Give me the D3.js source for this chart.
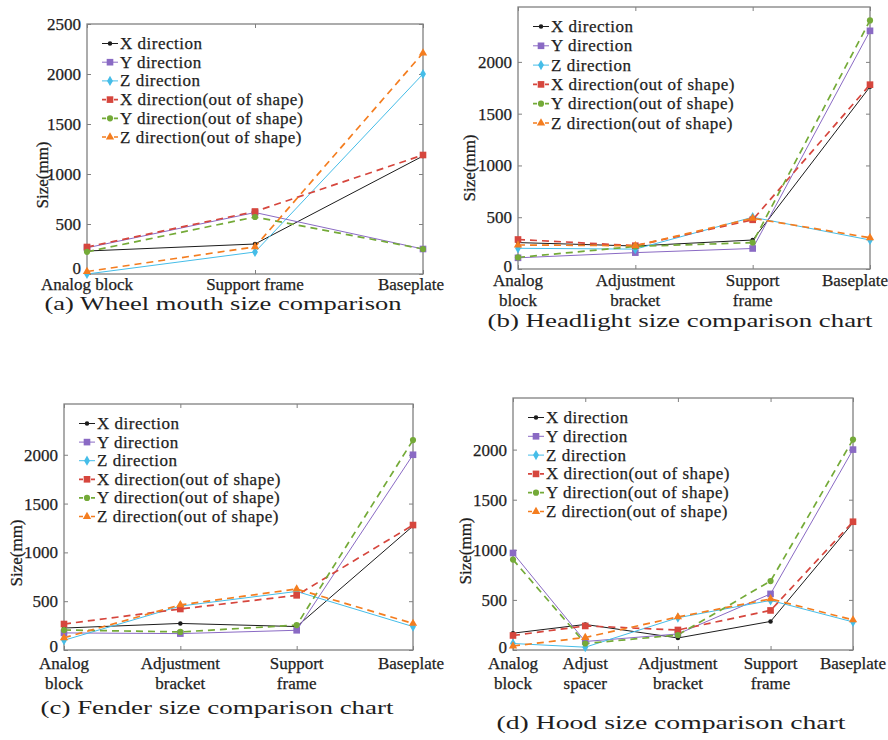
<!DOCTYPE html>
<html>
<head>
<meta charset="utf-8">
<script src="https://cdn.jsdelivr.net/npm/d3@7"></script>
<style>
  html, body { margin: 0; padding: 0; background: #fff; }
  svg { display: block; }
</style>
</head>
<body>
<svg id="chart" width="888" height="740"></svg>
<script>
// ---------------- DATA ----------------
const seriesNames = ["X direction", "Y direction", "Z direction",
  "X direction(out of shape)", "Y direction(out of shape)", "Z direction(out of shape)"];

const yTicksA = [0, 500, 1000, 1500, 2000, 2500];
const yTicksBCD = [0, 500, 1000, 1500, 2000];

// (a) Wheel mouth
const wheelCategories = ["Analog block", "Support frame", "Baseplate"];
const wheelX  = [230, 300, 1180];
const wheelY  = [262, 615, 250];
const wheelZ  = [0, 220, 2000];
const wheelXo = [270, 625, 1190];
const wheelYo = [222, 570, 250];
const wheelZo = [25, 272, 2210];

// (b) Headlight
const headCategories = ["Analog\nblock", "Adjustment\nbracket", "Support\nframe", "Baseplate"];
const headX  = [255, 222, 280, 1760];
const headY  = [108, 158, 198, 2300];
const headZ  = [200, 192, 500, 280];
const headXo = [285, 225, 475, 1780];
const headYo = [112, 218, 255, 2400];
const headZo = [232, 225, 490, 302];

// (c) Fender
const fenderCategories = ["Analog\nblock", "Adjustment\nbracket", "Support\nframe", "Baseplate"];
const fenderX  = [225, 272, 240, 1270];
const fenderY  = [175, 168, 202, 2000];
const fenderZ  = [100, 450, 600, 240];
const fenderXo = [266, 420, 560, 1280];
const fenderYo = [205, 185, 255, 2150];
const fenderZo = [125, 462, 625, 272];

// (d) Hood (uneven category spacing as in the original)
const hoodCategories = ["Analog\nblock", "Adjust\nspacer", "Adjustment\nbracket", "Support\nframe", "Baseplate"];
const hoodXPos = [1, 1.85, 2.94, 4.03, 5];
const hoodX  = [168, 255, 120, 285, 1270];
const hoodY  = [968, 85, 160, 560, 2000];
const hoodZ  = [65, 28, 322, 495, 280];
const hoodXo = [145, 240, 200, 395, 1280];
const hoodYo = [902, 65, 150, 688, 2100];
const hoodZo = [40, 125, 330, 510, 300];

const captions = ["(a) Wheel mouth size comparison", "(b) Headlight size comparison chart",
  "(c) Fender size comparison chart", "(d) Hood size comparison chart"];

// ---------------- STYLES ----------------
const SERIF = "'Liberation Serif', 'Times New Roman', Tinos, 'DejaVu Serif', serif";
const styles = [
  { color: "#1c1c1c", dash: null,  marker: "dot",      width: 1.0 },
  { color: "#8a6ac4", dash: null,  marker: "square",   width: 1.0 },
  { color: "#45bde8", dash: null,  marker: "diamond",  width: 1.0 },
  { color: "#d6463d", dash: "7,5", marker: "square",   width: 1.7 },
  { color: "#74aa38", dash: "7,5", marker: "circle",   width: 1.7 },
  { color: "#f47d1f", dash: "7,5", marker: "triangle", width: 1.7 }
];

const panels = [
  { cats: wheelCategories, xpos: null, series: [wheelX, wheelY, wheelZ, wheelXo, wheelYo, wheelZo],
    box: { l: 87, r: 423, t: 24, b: 274 }, yMax: 2500, ticks: yTicksA, limitR: 444, zeroLift: -6,
    xLabelY: 290, yLabel: { x: 48, y: 175 }, caption: { x: 223, y: 310, w: 357 }, legStep: 18.7 },
  { cats: headCategories, xpos: null, series: [headX, headY, headZ, headXo, headYo, headZo],
    box: { l: 518, r: 870, t: 7, b: 269 }, yMax: 2530, ticks: yTicksBCD, limitR: 888, zeroLift: -3,
    xLabelY: 286, yLabel: { x: 475, y: 168 }, caption: { x: 680, y: 327, w: 385 }, legStep: 19.3 },
  { cats: fenderCategories, xpos: null, series: [fenderX, fenderY, fenderZ, fenderXo, fenderYo, fenderZo],
    box: { l: 64, r: 413, t: 404, b: 650 }, yMax: 2520, ticks: yTicksBCD, limitR: 444, zeroLift: -4,
    xLabelY: 669, yLabel: { x: 22, y: 553 }, caption: { x: 217, y: 714, w: 353 }, legStep: 18.6 },
  { cats: hoodCategories, xpos: hoodXPos, series: [hoodX, hoodY, hoodZ, hoodXo, hoodYo, hoodZo],
    box: { l: 513, r: 853, t: 398, b: 650 }, yMax: 2515, ticks: yTicksBCD, limitR: 888, zeroLift: -3,
    xLabelY: 669, yLabel: { x: 471, y: 551 }, caption: { x: 671, y: 729, w: 349 }, legStep: 18.8 }
];

const svg = d3.select("#chart");
const FONT = 17;

function markerPath(type) {
  switch (type) {
    case "dot": return d3.symbol(d3.symbolCircle, 16)();
    case "circle": return d3.symbol(d3.symbolCircle, 30)();
    case "square": return d3.symbol(d3.symbolSquare, 44)();
    case "diamond": return d3.symbol(d3.symbolDiamond, 30)();
    case "triangle": return d3.symbol(d3.symbolTriangle, 30)();
  }
}

function styleText(sel, heavy = true) {
  sel.attr("font-family", SERIF).attr("fill", "#1e1e1e");
  if (heavy) sel.attr("stroke", "#1e1e1e").attr("stroke-width", 0.25);
  return sel;
}

panels.forEach((p, pi) => {
  const g = svg.append("g");
  const pos = p.xpos || d3.range(p.cats.length);
  const x = d3.scaleLinear().domain([pos[0], pos[pos.length - 1]]).range([p.box.l, p.box.r]);
  const y = d3.scaleLinear().domain([0, p.yMax]).range([p.box.b, p.box.t]);

  // box
  g.append("rect")
    .attr("x", p.box.l).attr("y", p.box.t)
    .attr("width", p.box.r - p.box.l).attr("height", p.box.b - p.box.t)
    .attr("fill", "none").attr("stroke", "#808080").attr("stroke-width", 1.3);

  // y axis left (labels, inward ticks)
  const yl = g.append("g").attr("transform", `translate(${p.box.l},0)`)
    .call(d3.axisLeft(y).tickValues(p.ticks).tickSizeInner(-4).tickSizeOuter(0).tickPadding(6).tickFormat(d3.format("d")));
  yl.attr("font-family", SERIF);
  yl.select(".domain").remove();
  yl.selectAll("line").attr("stroke", "#808080");
  styleText(yl.selectAll("text").attr("font-size", FONT));
  // the zero label sits slightly raised in the original
  yl.selectAll(".tick").filter(d => d === 0).select("text").attr("y", p.zeroLift);

  // y axis right ticks
  const yr = g.append("g").attr("transform", `translate(${p.box.r},0)`)
    .call(d3.axisRight(y).tickValues(p.ticks).tickSizeInner(-4).tickSizeOuter(0).tickFormat(""));
  yr.select(".domain").remove();
  yr.selectAll("line").attr("stroke", "#808080");

  // x ticks bottom/top inward
  const xb = g.append("g").attr("transform", `translate(0,${p.box.b})`)
    .call(d3.axisBottom(x).tickValues(pos).tickSizeInner(-4).tickSizeOuter(0).tickFormat(""));
  xb.select(".domain").remove();
  xb.selectAll("line").attr("stroke", "#808080");
  const xt = g.append("g").attr("transform", `translate(0,${p.box.t})`)
    .call(d3.axisTop(x).tickValues(pos).tickSizeInner(-4).tickSizeOuter(0).tickFormat(""));
  xt.select(".domain").remove();
  xt.selectAll("line").attr("stroke", "#808080");

  // x tick labels (multi-line)
  p.cats.forEach((c, i) => {
    const t = styleText(g.append("text")).attr("text-anchor", "middle").attr("font-size", FONT)
      .attr("x", x(pos[i])).attr("y", p.xLabelY);
    c.split("\n").forEach((line, li) => {
      t.append("tspan").attr("x", x(pos[i])).attr("dy", li === 0 ? 0 : 20).text(line);
    });
    const bb = t.node().getBBox();
    if (bb.x + bb.width > p.limitR) {
      const shift = bb.x + bb.width - p.limitR;
      t.attr("x", x(pos[i]) - shift);
      t.selectAll("tspan").attr("x", x(pos[i]) - shift);
    }
  });

  // y label
  styleText(g.append("text")).attr("font-size", FONT).attr("text-anchor", "middle")
    .attr("transform", `translate(${p.yLabel.x},${p.yLabel.y}) rotate(-90)`)
    .text("Size(mm)");

  // lines
  const line = d3.line().x((d, i) => x(pos[i])).y(d => y(d));
  p.series.forEach((vals, si) => {
    const st = styles[si];
    g.append("path").datum(vals)
      .attr("d", line).attr("fill", "none")
      .attr("stroke", st.color).attr("stroke-width", st.width)
      .attr("stroke-dasharray", st.dash);
  });
  p.series.forEach((vals, si) => {
    const st = styles[si];
    g.selectAll(null).data(vals).enter().append("path")
      .attr("d", markerPath(st.marker))
      .attr("transform", (d, i) => `translate(${x(pos[i])},${y(d)})`)
      .attr("fill", st.color);
  });

  // legend
  const lx = p.box.l + 15, ly = p.box.t + 19.5;
  seriesNames.forEach((name, si) => {
    const st = styles[si];
    const yy = ly + si * p.legStep;
    g.append("line").attr("x1", lx).attr("x2", lx + 16).attr("y1", yy).attr("y2", yy)
      .attr("stroke", st.color).attr("stroke-width", st.width)
      .attr("stroke-dasharray", st.dash ? "4,2" : null);
    g.append("path").attr("d", markerPath(st.marker))
      .attr("transform", `translate(${lx + 8},${yy})`).attr("fill", st.color);
    styleText(g.append("text")).attr("x", lx + 18).attr("y", yy + 5.5)
      .attr("font-size", FONT).attr("letter-spacing", 0.5).text(name);
  });

  // caption
  styleText(g.append("text"), false).attr("x", p.caption.x - p.caption.w / 2).attr("y", p.caption.y)
    .attr("font-size", 19).attr("textLength", p.caption.w).attr("lengthAdjust", "spacingAndGlyphs")
    .text(captions[pi]);
});
</script>
</body>
</html>
